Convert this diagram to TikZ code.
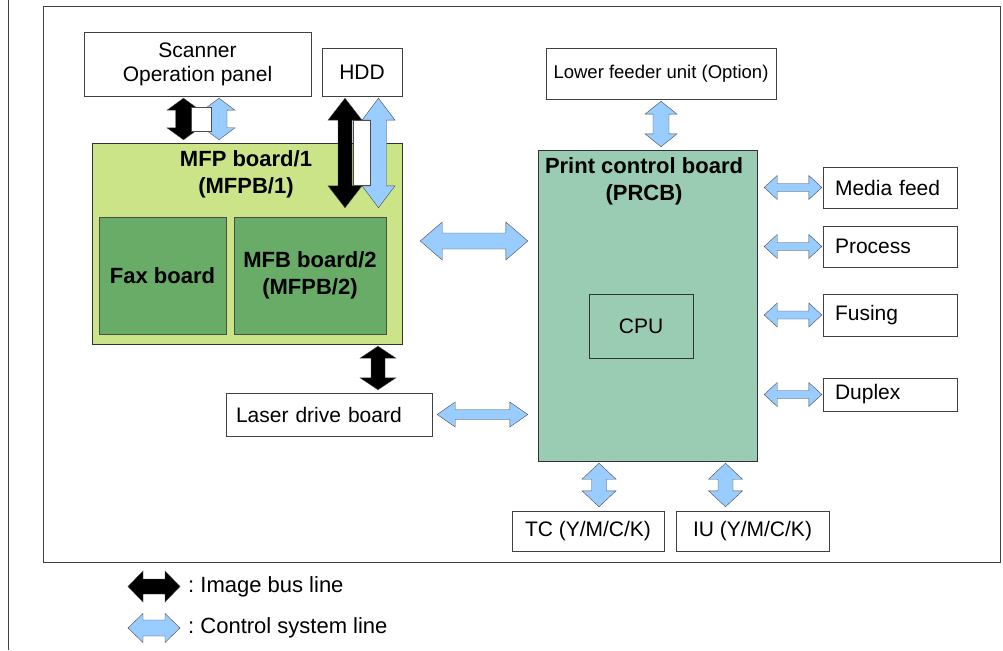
\documentclass[tikz,border=0pt]{standalone}
\usepackage{fontspec}
\setmainfont{Liberation Sans}
\usetikzlibrary{calc,positioning}
\definecolor{boardlight}{RGB}{204,228,136}
\definecolor{boarddark}{RGB}{104,172,104}
\definecolor{prcbgreen}{RGB}{153,204,178}
\definecolor{ctrlblue}{RGB}{153,204,255}
% block arrows: fill, first end, second end, head half width, shaft half width, head length
\newcommand{\vbus}[6]{%
  \filldraw[draw=black!70, fill=#1] (#2) -- ($(#2)+(#4,#6)$) -- ($(#2)+(#5,#6)$) -- ($(#3)+(#5,-#6)$)
    -- ($(#3)+(#4,-#6)$) -- (#3) -- ($(#3)+(-#4,-#6)$) -- ($(#3)+(-#5,-#6)$)
    -- ($(#2)+(-#5,#6)$) -- ($(#2)+(-#4,#6)$) -- cycle;}
\newcommand{\hbus}[6]{%
  \filldraw[draw=black!70, fill=#1] (#2) -- ($(#2)+(#6,-#4)$) -- ($(#2)+(#6,-#5)$) -- ($(#3)+(-#6,-#5)$)
    -- ($(#3)+(-#6,-#4)$) -- (#3) -- ($(#3)+(-#6,#4)$) -- ($(#3)+(-#6,#5)$)
    -- ($(#2)+(#6,#5)$) -- ($(#2)+(#6,#4)$) -- cycle;}

\begin{document}
\begin{tikzpicture}[x=1pt, y=-1pt, font=\fontsize{21}{24}\selectfont,
  unit/.style={draw=black!75, fill=white, inner sep=2pt, align=center},
  side/.style={unit, minimum width=134, text width=110, inner xsep=12pt, align=left},
  title/.style={font=\fontsize{22}{27}\selectfont\bfseries, align=center}]
  \useasboundingbox (0,0) rectangle (1003,650);
  \draw[black!75] (8,0) -- (8,650);
  \draw[black!75] (43,6) rectangle (1000,562);

  % boards
  \node[draw=black!80, fill=boardlight, minimum width=310, minimum height=201] (mfp) at (247,243.5) {};
  \node[title] (mfptitle) at (246,174) {MFP board/1\\(MFPB/1)};
  \node[draw=black!70, fill=boarddark, minimum width=127, minimum height=117, title] (fax) at (162.5,275.5) {Fax board};
  \node[draw=black!70, fill=boarddark, minimum width=152, minimum height=117, title] (mfb2) at (310,275.5) {MFB board/2\\(MFPB/2)};
  \node[draw=black!80, fill=prcbgreen, minimum width=219, minimum height=311] (prcb) at (647.5,305.5) {};
  \node[title] (prcbtitle) at (644,181) {Print control board\\(PRCB)};
  \node[draw=black!80, minimum width=104, minimum height=64] (cpu) at (641,326) {CPU};

  % units
  \node[unit, minimum width=227, minimum height=64] (scan) at (197.5,64) {Scanner\\Operation panel};
  \node[unit, minimum width=80, minimum height=48] (hdd) at (362,72) {HDD};
  \node[unit, minimum width=230, minimum height=51, font=\fontsize{18.5}{22}\selectfont] (lower) at (661,73.5) {Lower feeder unit (Option)};
  \node[side, minimum height=41] (media) at (890,187.5) {Media feed};
  \node[side, minimum height=41] (process) at (890,246.5) {Process};
  \node[side, minimum height=42] (fusing) at (890,315) {Fusing};
  \node[side, minimum height=33] (duplex) at (890,394.5) {Duplex};
  \node[unit, minimum width=206, minimum height=43, text width=186, inner xsep=10pt, align=left] (laser) at (329,414.5) {Laser drive board};
  \node[unit, minimum width=152, minimum height=40] (tc) at (588,531) {TC (Y/M/C/K)};
  \node[unit, minimum width=153, minimum height=40] (iu) at (752.5,531) {IU (Y/M/C/K)};

  % scanner and HDD lines
  \coordinate (s1) at ($(scan.south)+(-14,2)$);
  \coordinate (s2) at ($(s1 |- mfp.north)+(0,-3)$);
  \coordinate (s3) at ($(scan.south)+(21.5,2)$);
  \coordinate (s4) at ($(s3 |- mfp.north)+(0,-3)$);
  \vbus{black}{s1}{s2}{16.5}{8}{12}
  \vbus{ctrlblue}{s3}{s4}{16}{8}{12}
  \draw[black!70, fill=white] (191.5,107) rectangle (211,131);
  \coordinate (h1) at ($(hdd.south)+(-17,2)$);
  \coordinate (h2) at ($(h1 |- mfb2.north)+(0,-9)$);
  \coordinate (h3) at ($(hdd.south)+(16.5,2)$);
  \coordinate (h4) at ($(h3 |- mfb2.north)+(0,-9)$);
  \vbus{black}{h1}{h2}{17}{7}{22}
  \vbus{ctrlblue}{h3}{h4}{16.5}{8}{22}
  \draw[black!70, fill=white] (353,120) rectangle (370.5,185);

  % MFP, laser and PRCB
  \coordinate (m1) at ($(mfp.east)+(18,-2.5)$);
  \coordinate (m2) at ($(m1 -| prcb.west)+(-10,0)$);
  \hbus{ctrlblue}{m1}{m2}{19}{8}{22}
  \coordinate (l1) at ($(laser.east)+(5,0)$);
  \coordinate (l2) at ($(l1 -| prcb.west)+(-10,0)$);
  \hbus{ctrlblue}{l1}{l2}{12.5}{5}{18}
  \coordinate (k1) at ($(mfp.south)+(131,2)$);
  \coordinate (k2) at ($(k1 |- laser.north)+(0,-3)$);
  \vbus{black}{k1}{k2}{18}{7}{12}

  % PRCB lines
  \coordinate (f1) at ($(lower.south)+(0,2)$);
  \coordinate (f2) at ($(f1 |- prcb.north)+(0,-3)$);
  \vbus{ctrlblue}{f1}{f2}{16}{8}{13}
  \foreach \u in {media,process,fusing,duplex}{
    \coordinate (r1) at ($(prcb.east |- \u.west)+(7,0)$);
    \coordinate (r2) at ($(\u.west)+(-1,0)$);
    \hbus{ctrlblue}{r1}{r2}{12}{4}{13}
  }
  \coordinate (t2) at ($(tc.north)+(11,-4)$);
  \coordinate (t1) at ($(t2 |- prcb.south)+(0,2)$);
  \vbus{ctrlblue}{t1}{t2}{17}{7.5}{16}
  \coordinate (i2) at ($(iu.north)+(-27,-4)$);
  \coordinate (i1) at ($(i2 |- prcb.south)+(0,2)$);
  \vbus{ctrlblue}{i1}{i2}{17}{7.5}{16}

  % legend
  \node[anchor=west, inner sep=0pt, font=\fontsize{22}{26}\selectfont] (legbus) at (188,586.5) {:\ Image bus line};
  \node[anchor=west, inner sep=0pt, font=\fontsize{22}{26}\selectfont] (legctrl) at (188,628) {:\ Control system line};
  \hbus{black}{$(legbus.west)+(-60,0)$}{$(legbus.west)+(-8,0)$}{15.5}{7.5}{15}
  \hbus{ctrlblue}{$(legctrl.west)+(-60,0)$}{$(legctrl.west)+(-8,0)$}{14.5}{8}{15}
\end{tikzpicture}
\end{document}
